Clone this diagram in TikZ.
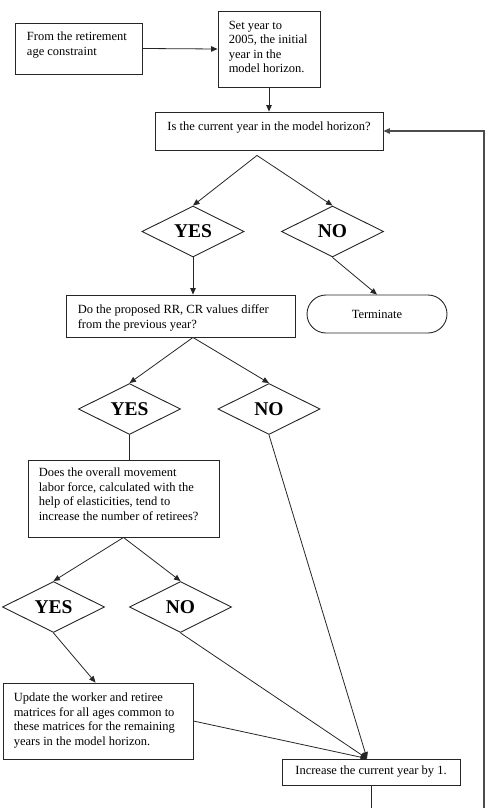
\documentclass[tikz,border=0pt]{standalone}
\usepackage{fontspec}
\setmainfont{Liberation Serif}
\usetikzlibrary{arrows.meta,shapes.geometric,calc}
\begin{document}
\begin{tikzpicture}[x=1pt,y=-1pt,
  ln/.style={line width=0.8pt, draw=black!85},
  arr/.style={ln, -{Triangle[length=6.5pt,width=5.5pt]}},
  box/.style={draw=black!85, line width=0.9pt, rectangle, inner sep=0pt},
  term/.style={box, rounded corners=19pt},
  dia/.style={draw=black!85, line width=0.9pt, diamond, inner sep=0pt, minimum width=102pt, minimum height=51pt},
  txt/.style={font=\fontsize{12.5}{14.6}\selectfont, align=left, inner sep=0pt, anchor=north west},
  ctxt/.style={font=\fontsize{12.5}{14.6}\selectfont, inner sep=0pt},
  yn/.style={font=\fontsize{19.5}{22}\selectfont\bfseries, inner sep=0pt}]
\useasboundingbox (0,0) rectangle (486,808);

% boxes
\node[box, minimum width=127pt, minimum height=51pt] (a) at (79.2,48.5) {};
\node[txt] (atx) at ($(a.north west)+(11.5,9)$) {From the retirement\\age constraint};

\node[box, minimum width=102pt, minimum height=76pt] (b) at (269,49) {};
\node[txt] (btx) at ($(b.north west)+(11,10)$) {Set year to\\2005, the initial\\year in the\\model horizon.};

\node[box, minimum width=228pt, minimum height=38pt] (c) at (269,131) {};
\node[ctxt, anchor=north] (ctx) at ($(c.north)+(0,10)$) {Is the current year in the model horizon?};

\node[dia] (y1) at (193,231.5) {};
\node[yn] at (y1) {YES};
\node[dia] (n1) at (332.5,231.5) {};
\node[yn] at (n1) {NO};

\node[term, minimum width=140pt, minimum height=38pt] (t) at (377,314) {};
\node[ctxt] at (t) {Terminate};

\node[box, minimum width=229pt, minimum height=42pt] (d) at (180.5,316) {};
\node[txt] (dtx) at ($(d.north west)+(12,10)$) {Do the proposed RR, CR values differ\\from the previous year?};

\node[dia] (y2) at (129.5,409) {};
\node[yn] at (y2) {YES};
\node[dia] (n2) at (269,409) {};
\node[yn] at (n2) {NO};

\node[box, minimum width=191pt, minimum height=77pt] (e) at (123.5,498.5) {};
\node[txt] (etx) at ($(e.north west)+(11,8)$) {Does the overall movement\\labor force, calculated with the\\help of elasticities, tend to\\increase the number of retirees?};

\node[dia] (y3) at (53.5,607) {};
\node[yn] at (y3) {YES};
\node[dia] (n3) at (180.5,607) {};
\node[yn] at (n3) {NO};

\node[box, minimum width=190pt, minimum height=76pt] (f) at (98,721) {};
\node[txt] (ftx) at ($(f.north west)+(11,10)$) {Update the worker and retiree\\matrices for all ages common to\\these matrices for the remaining\\years in the model horizon.};

\node[box, minimum width=178pt, minimum height=26pt] (g) at (371,772) {};
\node[ctxt] at (g) {Increase the current year by 1.};

% helper coordinates
\coordinate (s1) at ($(c.south)+(-12,5)$);
\coordinate (s2) at (y1.south |- d.south);
\coordinate (s3) at (e.south);
\coordinate (gin) at ($(g.north)+(-4,0)$);
\coordinate (bot) at (0,808);
\coordinate (rb) at (484,808);

% connectors
\draw[arr] (a.east) -- (b.west);
\draw[arr] (b.south) -- (c.north);
\draw[arr] (s1) -- (y1.north);
\draw[arr] (s1) -- (n1.north);
\draw[arr] (y1.south) -- (y1.south |- d.north);
\draw[arr] (n1.south) -- (t.north);
\draw[arr] (s2) -- (y2.north);
\draw[arr] (s2) -- (n2.north);
\draw[ln] (y2.south) -- (y2.south |- e.north);
\draw[arr] (s3) -- (y3.north);
\draw[arr] (s3) -- (n3.north);
\draw[arr] (y3.south) -- ($(f.north west)+(93,0)$);
\draw[arr] (n2.south) -- (gin);
\draw[arr] (n3.south) -- (gin);
\draw[arr] (f.east) -- (gin);
\draw[ln] (g.south) -- (g.south |- bot);
\draw[arr, line width=1.2pt, draw=black!70] (rb) |- (c.east);
\end{tikzpicture}
\end{document}
